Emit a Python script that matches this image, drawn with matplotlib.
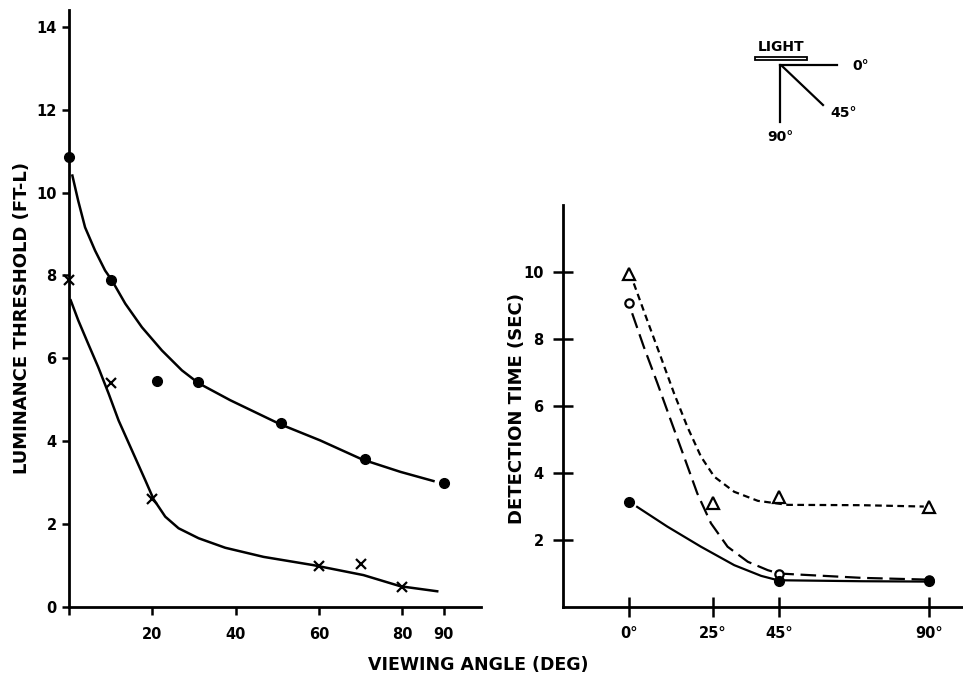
import matplotlib
matplotlib.use("Agg")
import matplotlib.pyplot as plt

plt.rcParams['font.family'] = ['DejaVu Sans']
plt.rcParams['font.weight'] = 'bold'

# left panel: luminance threshold vs viewing angle
dot_x = [0, 10, 21, 31, 51, 71, 90]
dot_y = [10.85, 7.9, 5.45, 5.42, 4.43, 3.57, 3.0]
cross_x = [0, 10, 20, 60, 70, 80]
cross_y = [7.9, 5.4, 2.6, 1.0, 1.05, 0.48]

# hand-drawn fitted curves
upper_cx = [0.8, 2.2, 3.85, 6.25, 8.65, 10.3, 13.5, 17.5, 22.3, 27.1, 31.1,
            38.7, 50.7, 60.3, 70.4, 79.6, 87.5]
upper_cy = [10.41, 9.8, 9.16, 8.6, 8.12, 7.88, 7.32, 6.75, 6.19, 5.71, 5.4,
            4.99, 4.41, 4.02, 3.56, 3.26, 3.04]
lower_cx = [0.4, 2.2, 4.6, 7.0, 9.5, 11.9, 15.1, 18.3, 20.3, 23.1, 26.3, 31.1,
            37.5, 46.7, 58.7, 70.7, 79.6, 88.4]
lower_cy = [7.4, 6.92, 6.35, 5.79, 5.15, 4.5, 3.78, 3.06, 2.6, 2.18, 1.9, 1.66,
            1.43, 1.21, 1.01, 0.77, 0.5, 0.38]

# right panel: detection time vs viewing angle
angles = [0, 25, 45, 90]
angle_labels = ['0°', '25°', '45°', '90°']
tri_y = [9.95, 3.1, 3.27, 3.0]
circ_x = [0, 45, 90]
circ_y = [9.07, 1.0, 0.8]
fill_x = [0, 45, 90]
fill_y = [3.14, 0.79, 0.78]

tri_cx = [1.3, 5.3, 9.4, 13.4, 17.4, 21.5, 25.5, 31.5, 38.6, 47.6, 70, 88.5]
tri_cy = [9.66, 8.57, 7.47, 6.38, 5.38, 4.49, 3.89, 3.44, 3.17, 3.05, 3.04, 3.0]
circ_cx = [0.8, 4.3, 8.4, 12.4, 16.4, 20.4, 24.5, 29.5, 35.6, 41.6, 45, 70, 89]
circ_cy = [8.77, 7.77, 6.68, 5.58, 4.49, 3.39, 2.5, 1.8, 1.35, 1.1, 1.0, 0.87, 0.82]
fill_cx = [2.3, 11.4, 21.5, 31.5, 39.6, 44.6, 70, 89]
fill_cy = [2.99, 2.4, 1.8, 1.25, 0.93, 0.8, 0.77, 0.76]

fig = plt.figure(figsize=(9.63, 6.79), dpi=100)

ax1 = fig.add_axes([0.0717, 0.106, 0.4273, 0.879])
ax1.plot(upper_cx, upper_cy, color='black', lw=1.8)
ax1.plot(lower_cx, lower_cy, color='black', lw=1.8)
ax1.plot(dot_x, dot_y, 'o', color='black', ms=7, clip_on=False)
ax1.plot(cross_x, cross_y, 'x', color='black', ms=7, mew=1.6, clip_on=False)
ax1.set_xlim(0, 98.8)
ax1.set_ylim(0, 14.4)
ax1.set_yticks([0, 2, 4, 6, 8, 10, 12, 14])
ax1.set_xticks([0, 20, 40, 60, 80, 90])
ax1.set_xticklabels(['', '20', '40', '60', '80', '90'])
for s in ['top', 'right']:
    ax1.spines[s].set_visible(False)
for s in ['left', 'bottom']:
    ax1.spines[s].set_linewidth(2)
ax1.tick_params(direction='out', width=1.8, labelsize=10.5)
ax1.tick_params(axis='x', length=6, pad=8.5)
ax1.tick_params(axis='y', length=5, pad=4)

ax2 = fig.add_axes([0.5846, 0.106, 0.4144, 0.592])
ax2.plot(tri_cx, tri_cy, color='black', lw=1.6, ls=(0, (3, 2)))
ax2.plot(circ_cx, circ_cy, color='black', lw=1.6, ls=(0, (7, 3)))
ax2.plot(fill_cx, fill_cy, color='black', lw=1.6)
ax2.plot(angles, tri_y, '^', mfc='white', mec='black', mew=1.6, ms=8, clip_on=False)
ax2.plot(circ_x, circ_y, 'o', mfc='white', mec='black', mew=1.6, ms=6, clip_on=False)
ax2.plot(fill_x, fill_y, 'o', color='black', ms=7, clip_on=False)
ax2.set_xlim(-20, 100)
ax2.set_ylim(0, 12)
ax2.set_xticks(angles)
ax2.set_xticklabels(angle_labels)
ax2.set_yticks([2, 4, 6, 8, 10])
for s in ['top', 'right']:
    ax2.spines[s].set_visible(False)
for s in ['left', 'bottom']:
    ax2.spines[s].set_linewidth(2)
ax2.tick_params(direction='inout', length=14, width=1.8, labelsize=10.5, pad=7)

fig.text(22 / 963, 1 - 318 / 679, 'LUMINANCE THRESHOLD (FT-L)', rotation=90,
         ha='center', va='center', fontsize=13, fontweight='bold')
fig.text(517 / 963, 1 - 408 / 679, 'DETECTION TIME (SEC)', rotation=90,
         ha='center', va='center', fontsize=13, fontweight='bold')
fig.text(478 / 963, 1 - 665 / 679, 'VIEWING ANGLE (DEG)', ha='center', va='center',
         fontsize=12.5, fontweight='bold')

# small light/angle diagram
fig.text(781 / 963, 1 - 47 / 679, 'LIGHT', ha='center', va='center', fontsize=10, fontweight='bold')
fig.patches.append(plt.Rectangle((755 / 963, 1 - 60 / 679), 52 / 963, 3 / 679,
                                 transform=fig.transFigure, fill=False, lw=1.3, ec='black'))
fig.lines.append(plt.Line2D([780 / 963, 837 / 963], [1 - 65 / 679, 1 - 65 / 679],
                            transform=fig.transFigure, color='black', lw=1.6))
fig.lines.append(plt.Line2D([780 / 963, 780 / 963], [1 - 65 / 679, 1 - 122 / 679],
                            transform=fig.transFigure, color='black', lw=1.6))
fig.lines.append(plt.Line2D([782 / 963, 823 / 963], [1 - 66 / 679, 1 - 105 / 679],
                            transform=fig.transFigure, color='black', lw=1.6))
fig.text(852 / 963, 1 - 66 / 679, '0°', ha='left', va='center', fontsize=10, fontweight='bold')
fig.text(830 / 963, 1 - 113 / 679, '45°', ha='left', va='center', fontsize=10, fontweight='bold')
fig.text(780 / 963, 1 - 137 / 679, '90°', ha='center', va='center', fontsize=10, fontweight='bold')

fig.savefig('out.png', dpi=100)
